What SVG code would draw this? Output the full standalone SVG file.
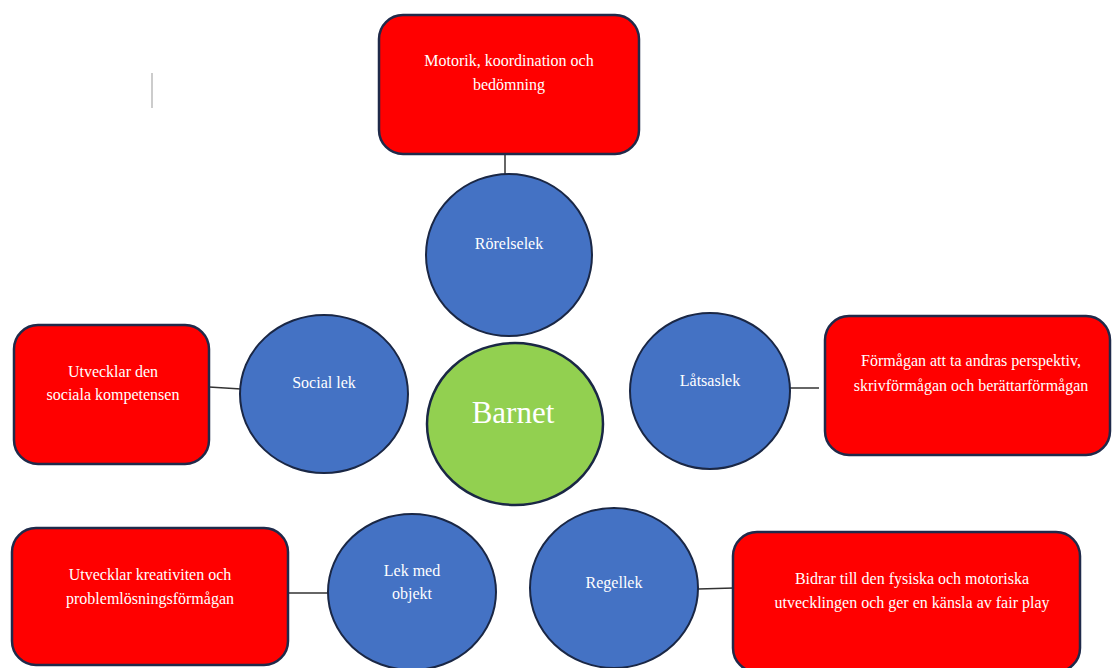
<svg xmlns="http://www.w3.org/2000/svg" width="1112" height="668" viewBox="0 0 1112 668">
<style>
.box{fill:#ff0000;stroke:#1f2a4a;stroke-width:2.5}
.circ{fill:#4472c4;stroke:#1a2745;stroke-width:2}
.center{fill:#92d050;stroke:#1a2745;stroke-width:2.5}
.t{font-family:"Liberation Serif","Times New Roman",serif;font-size:16px;fill:#ffffff;text-anchor:middle}
.big{font-size:31px}
.conn line{stroke:#333333;stroke-width:1.5}
</style>
<rect width="1112" height="668" fill="#ffffff"/>
<line x1="152" y1="73" x2="152" y2="108" stroke="#bbbbbb" stroke-width="1.5"/>
<g class="conn" id="connectors">
<line x1="505" y1="154" x2="505" y2="175"/>
<line x1="209" y1="387" x2="241" y2="389"/>
<line x1="790" y1="388" x2="819" y2="388"/>
<line x1="288" y1="593" x2="329" y2="593"/>
<line x1="698" y1="589" x2="734" y2="588"/>
</g>
<g id="box-motorik">
<rect class="box" x="379" y="15" width="260" height="139" rx="24"/>
<text class="t" x="509" y="66">Motorik, koordination och</text>
<text class="t" x="509" y="90">bedömning</text>
</g>
<g id="box-social">
<rect class="box" x="14" y="325" width="195" height="139" rx="24"/>
<text class="t" x="113" y="377">Utvecklar den</text>
<text class="t" x="113" y="400">sociala kompetensen</text>
</g>
<g id="box-latsas">
<rect class="box" x="825" y="316" width="285" height="139" rx="24"/>
<text class="t" x="971" y="366">Förmågan att ta andras perspektiv,</text>
<text class="t" x="971" y="391">skrivförmågan och berättarförmågan</text>
</g>
<g id="box-objekt">
<rect class="box" x="12" y="528" width="276" height="137" rx="24"/>
<text class="t" x="150" y="580">Utvecklar kreativiten och</text>
<text class="t" x="150" y="604">problemlösningsförmågan</text>
</g>
<g id="box-regel">
<rect class="box" x="733" y="532" width="347" height="140" rx="24"/>
<text class="t" x="912" y="584">Bidrar till den fysiska och motoriska</text>
<text class="t" x="912" y="608">utvecklingen och ger en känsla av fair play</text>
</g>
<g id="c-rorelse">
<ellipse class="circ" cx="509" cy="255" rx="83" ry="81"/>
<text class="t" x="509" y="249">Rörelselek</text>
</g>
<g id="c-barnet">
<ellipse class="center" cx="515" cy="424" rx="88" ry="81"/>
<text class="t big" x="513" y="423">Barnet</text>
</g>
<g id="c-social">
<ellipse class="circ" cx="324" cy="394" rx="84" ry="79"/>
<text class="t" x="324" y="388">Social lek</text>
</g>
<g id="c-latsas">
<ellipse class="circ" cx="710" cy="391" rx="80" ry="78"/>
<text class="t" x="710" y="386">Låtsaslek</text>
</g>
<g id="c-objekt">
<ellipse class="circ" cx="412" cy="592" rx="84" ry="78"/>
<text class="t" x="412" y="576">Lek med</text>
<text class="t" x="412" y="599">objekt</text>
</g>
<g id="c-regel">
<ellipse class="circ" cx="614" cy="588" rx="84" ry="80"/>
<text class="t" x="614" y="588">Regellek</text>
</g>
</svg>
